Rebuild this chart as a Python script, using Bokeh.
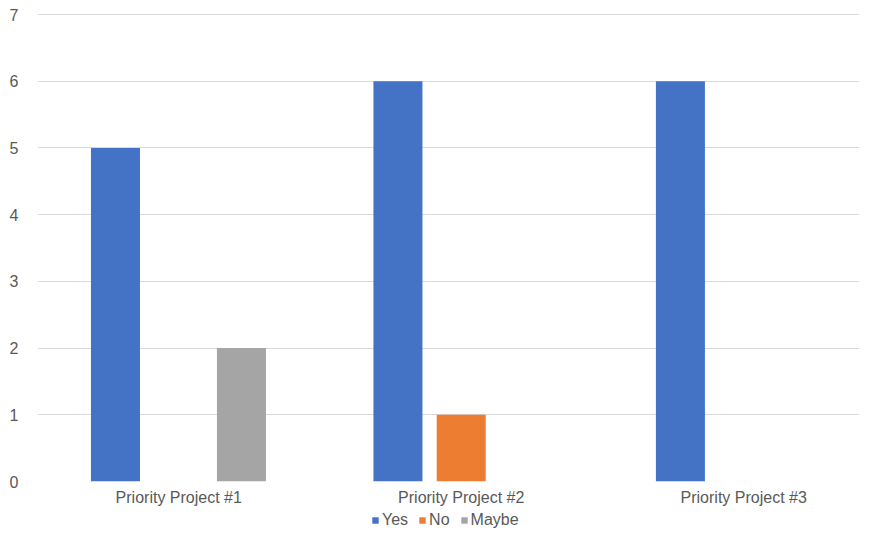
from bokeh.plotting import figure
from bokeh.layouts import column
from bokeh.models import Range1d, FixedTicker, Legend, LegendItem, ColumnDataSource
from bokeh.embed import file_html
from bokeh.resources import INLINE

categories = ["Priority Project #1", "Priority Project #2", "Priority Project #3"]
series = ["Yes", "No", "Maybe"]
yes_vals = [5, 6, 6]
no_vals = [0, 1, 0]
maybe_vals = [2, 0, 0]
colors = ["#4472C4", "#ED7D31", "#A5A5A5"]
y_ticks = [0, 1, 2, 3, 4, 5, 6, 7]

FONT = "Liberation Sans"
TXT = "#595959"

p = figure(width=859, height=508, output_backend="svg", toolbar_location=None,
           x_range=Range1d(0, 2.910), y_range=Range1d(0, 7.015),
           min_border_left=37, min_border_right=0, min_border_top=13, min_border_bottom=26)
p.outline_line_color = None
p.background_fill_color = "white"
p.border_fill_color = "white"

offsets = [-0.224, 0.0, 0.222]
bar_w = 0.1735
for s, vals, off, c in zip(series, [yes_vals, no_vals, maybe_vals], offsets, colors):
    xs = [i + 0.5 + off for i in range(len(categories))]
    src = ColumnDataSource(dict(x=xs, top=vals))
    p.vbar(x="x", top="top", bottom=0, width=bar_w, source=src,
           fill_color=c, line_color=None)

# x axis
p.xaxis.ticker = FixedTicker(ticks=[i + 0.5 for i in range(len(categories))])
p.xaxis.major_label_overrides = {i + 0.5: c for i, c in enumerate(categories)}
p.xaxis.axis_line_color = None
p.xaxis.major_tick_line_color = None
p.xaxis.major_tick_out = 0
p.xaxis.major_tick_in = 0
p.xaxis.minor_tick_line_color = None
p.xaxis.minor_tick_out = 0
p.xaxis.major_label_standoff = 7
p.xaxis.major_label_text_font = FONT
p.xaxis.major_label_text_font_size = "16px"
p.xaxis.major_label_text_color = TXT
p.xgrid.grid_line_color = None

# y axis
p.yaxis.ticker = FixedTicker(ticks=y_ticks)
p.yaxis.axis_line_color = None
p.yaxis.major_tick_line_color = None
p.yaxis.major_tick_out = 0
p.yaxis.major_tick_in = 0
p.yaxis.minor_tick_line_color = None
p.yaxis.minor_tick_out = 0
p.yaxis.major_label_standoff = 19
p.yaxis.major_label_text_font = FONT
p.yaxis.major_label_text_font_size = "16px"
p.yaxis.major_label_text_color = TXT
p.ygrid.grid_line_color = "#D9D9D9"
p.ygrid.grid_line_width = 1

# legend strip
lg = figure(width=859, height=22, output_backend="svg", toolbar_location=None,
            x_axis_type=None, y_axis_type=None,
            x_range=Range1d(0, 1), y_range=Range1d(0, 1),
            min_border_left=37, min_border_right=0, min_border_top=0, min_border_bottom=0)
lg.outline_line_color = None
lg.xgrid.grid_line_color = None
lg.ygrid.grid_line_color = None
items = []
for s, c in zip(series, colors):
    r = lg.vbar(x=[-5], top=[0], bottom=[0], width=0.1, fill_color=c, line_color=None)
    items.append(LegendItem(label=s, renderers=[r]))
legend = Legend(items=items, orientation="horizontal", location=(334, 1),
                glyph_width=8, glyph_height=8, label_text_font=FONT,
                label_text_font_size="16px", label_text_color=TXT, label_height=18,
                spacing=10, padding=0, margin=0, label_standoff=3,
                border_line_color=None, background_fill_alpha=0)
lg.add_layout(legend, "center")

layout = column(p, lg, spacing=0)
open("out.html", "w").write(file_html(layout, INLINE))
